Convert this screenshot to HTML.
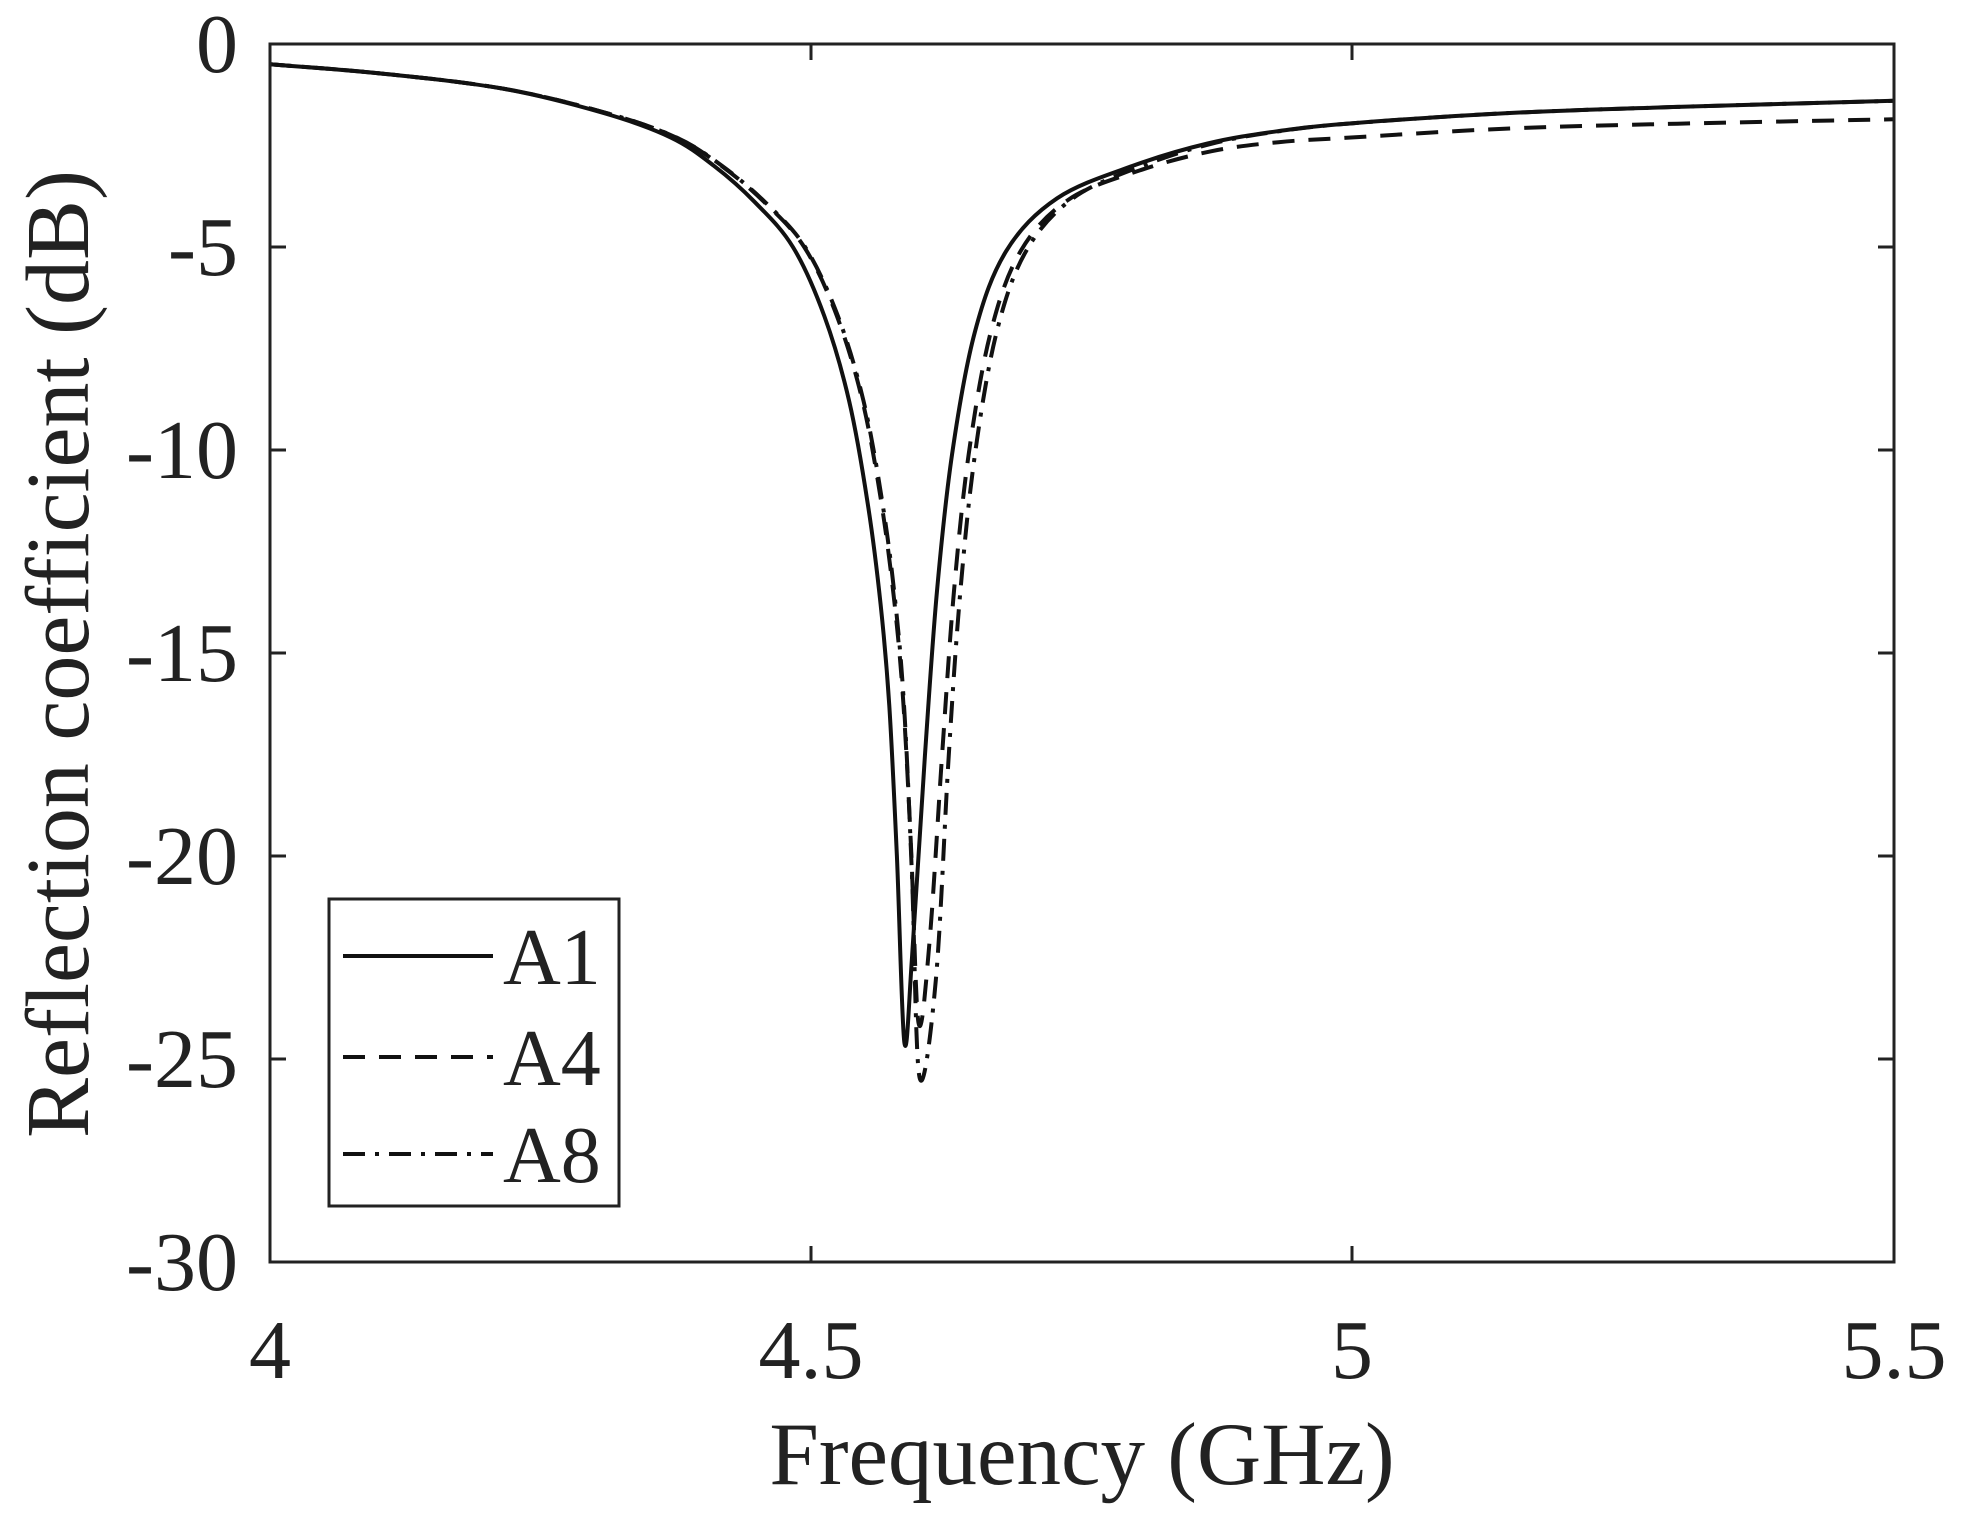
<!DOCTYPE html>
<html><head><meta charset="utf-8"><style>
html,body{margin:0;padding:0;background:#fff;}
svg{display:block;}
text{font-family:"Liberation Serif",serif;fill:#222;}
</style></head><body>
<svg id="s" width="1973" height="1524" viewBox="0 0 1973 1524" xmlns="http://www.w3.org/2000/svg">
<rect x="0" y="0" width="1973" height="1524" fill="#fff"/>
<g id="curves" fill="none" stroke="#111" stroke-width="4" stroke-linejoin="round"></g>
<rect x="270" y="44" width="1624" height="1218" fill="none" stroke="#222" stroke-width="3"/>
<g stroke="#222" stroke-width="3">
<line x1="811" y1="1262" x2="811" y2="1246"/><line x1="1352" y1="1262" x2="1352" y2="1246"/>
<line x1="811" y1="44" x2="811" y2="60"/><line x1="1352" y1="44" x2="1352" y2="60"/>
<line x1="270" y1="247" x2="286" y2="247"/><line x1="270" y1="450" x2="286" y2="450"/><line x1="270" y1="653" x2="286" y2="653"/><line x1="270" y1="856" x2="286" y2="856"/><line x1="270" y1="1059" x2="286" y2="1059"/>
<line x1="1894" y1="247" x2="1878" y2="247"/><line x1="1894" y1="450" x2="1878" y2="450"/><line x1="1894" y1="653" x2="1878" y2="653"/><line x1="1894" y1="856" x2="1878" y2="856"/><line x1="1894" y1="1059" x2="1878" y2="1059"/>
</g>
<g font-size="84" text-anchor="end">
<text x="238" y="72">0</text>
<text x="238" y="275">-5</text>
<text x="238" y="478">-10</text>
<text x="238" y="681">-15</text>
<text x="238" y="884">-20</text>
<text x="238" y="1087">-25</text>
<text x="238" y="1290">-30</text>
</g>
<g font-size="84" text-anchor="middle">
<text x="270" y="1378">4</text>
<text x="811" y="1378">4.5</text>
<text x="1352" y="1378">5</text>
<text x="1894" y="1378">5.5</text>
</g>
<text x="1082" y="1484" font-size="89" text-anchor="middle">Frequency (GHz)</text>
<text transform="translate(88,654) rotate(-90)" font-size="90" text-anchor="middle">Reflection coefficient (dB)</text>
<rect x="329" y="899" width="290" height="307" fill="#fff" stroke="#222" stroke-width="3"/>
<g stroke="#111" stroke-width="4">
<line x1="343" y1="956" x2="493" y2="956"/>
<line x1="343" y1="1057" x2="493" y2="1057" stroke-dasharray="22,14"/>
<line x1="343" y1="1154" x2="493" y2="1154" stroke-dasharray="22,10,4,10"/>
</g>
<g font-size="80">
<text x="503" y="984">A1</text>
<text x="503" y="1085">A4</text>
<text x="503" y="1182">A8</text>
</g>
</svg>
<script>
var A1=[[4.0,-0.5],[4.1,-0.72],[4.215,-1.1],[4.308,-1.7],[4.37,-2.3],[4.41,-3.0],[4.448,-3.9],[4.483,-5.0],[4.512,-6.7],[4.535,-8.8],[4.552,-11.3],[4.564,-13.8],[4.572,-16.3],[4.579,-20],[4.586,-24.6],[4.593,-22.5],[4.605,-17.5],[4.616,-13.5],[4.630,-10.1],[4.651,-7.1],[4.680,-5.1],[4.727,-3.8],[4.797,-3.0],[4.866,-2.45],[4.93,-2.15],[5.0,-1.95],[5.145,-1.7],[5.3,-1.55],[5.5,-1.4]];
function X(f){return 270+(f-4)/1.5*1624;}
function Y(d){return 44-d*40.6;}
function make(shL,shR,depth,tail){
 return A1.map(function(p){
  var f=p[0],d=p[1];
  var sh=(f<=4.586?shL:shR)*Math.exp(-Math.pow((f-4.586)/0.22,2));
  var k=1+depth*Math.exp(-Math.pow((f-4.586)/0.012,2));
  var t=0;
  if(f>4.7){t=tail*Math.min(1,(f-4.7)/0.3);}
  if(f>5.0){t=tail*(1+0.3*(f-5.0)/0.5);}
  return [f+sh,d*k+t];
 });
}
function path(pts){
 var P=pts.map(function(p){return [X(p[0]),Y(p[1])];});
 var s="M"+P[0][0].toFixed(1)+","+P[0][1].toFixed(1);
 for(var i=0;i<P.length-1;i++){
  var p0=P[Math.max(0,i-1)],p1=P[i],p2=P[i+1],p3=P[Math.min(P.length-1,i+2)];
  var c1=[p1[0]+(p2[0]-p0[0])/6,p1[1]+(p2[1]-p0[1])/6];
  var c2=[p2[0]-(p3[0]-p1[0])/6,p2[1]-(p3[1]-p1[1])/6];
  s+=" C"+c1[0].toFixed(1)+","+c1[1].toFixed(1)+" "+c2[0].toFixed(1)+","+c2[1].toFixed(1)+" "+p2[0].toFixed(1)+","+p2[1].toFixed(1);
 }
 return s;
}
var g=document.getElementById("curves");
function add(d,dash){
 var e=document.createElementNS("http://www.w3.org/2000/svg","path");
 e.setAttribute("d",d);if(dash)e.setAttribute("stroke-dasharray",dash);g.appendChild(e);
}
add(path(A1));
add(path(make(0.013,0.016,-0.02,-0.35)),"22,14");
add(path(make(0.014,0.022,0.035,0)),"22,10,4,10");
</script>
</body></html>
